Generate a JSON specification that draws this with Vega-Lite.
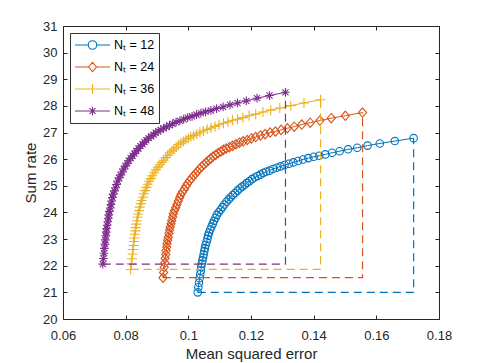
{
"$schema": "https://vega.github.io/schema/vega-lite/v6.json",
"width": 376, "height": 293,
"autosize": "none",
"padding": {"left": 63, "top": 26, "right": 46, "bottom": 44},
"background": "white",
"config": {
 "view": {"stroke": null},
 "font": "Liberation Sans",
 "axis": {"grid": false, "domainColor": "#262626", "tickColor": "#262626", "labelColor": "#262626", "titleColor": "#262626", "labelFontSize": 13, "titleFontSize": 15, "titleFontWeight": "normal", "labelFont": "Liberation Sans", "titleFont": "Liberation Sans", "tickSize": -4, "labelFlush": false, "labelOverlap": false}
},
"datasets": {
"curves": [
{"s":"12","i":1,"x":0.1030,"y":21.00},{"s":"12","i":2,"x":0.1032,"y":21.19},{"s":"12","i":3,"x":0.1034,"y":21.36},{"s":"12","i":4,"x":0.1036,"y":21.53},{"s":"12","i":5,"x":0.1038,"y":21.68},{"s":"12","i":6,"x":0.1040,"y":21.82},{"s":"12","i":7,"x":0.1041,"y":21.95},{"s":"12","i":8,"x":0.1043,"y":22.08},{"s":"12","i":9,"x":0.1045,"y":22.20},{"s":"12","i":10,"x":0.1047,"y":22.31},
{"s":"12","i":11,"x":0.1049,"y":22.43},{"s":"12","i":12,"x":0.1051,"y":22.55},{"s":"12","i":13,"x":0.1053,"y":22.66},{"s":"12","i":14,"x":0.1055,"y":22.78},{"s":"12","i":15,"x":0.1058,"y":22.89},{"s":"12","i":16,"x":0.1061,"y":23.01},{"s":"12","i":17,"x":0.1063,"y":23.13},{"s":"12","i":18,"x":0.1066,"y":23.24},{"s":"12","i":19,"x":0.1070,"y":23.36},{"s":"12","i":20,"x":0.1074,"y":23.47},
{"s":"12","i":21,"x":0.1078,"y":23.58},{"s":"12","i":22,"x":0.1082,"y":23.69},{"s":"12","i":23,"x":0.1087,"y":23.80},{"s":"12","i":24,"x":0.1091,"y":23.91},{"s":"12","i":25,"x":0.1097,"y":24.01},{"s":"12","i":26,"x":0.1103,"y":24.10},{"s":"12","i":27,"x":0.1109,"y":24.20},{"s":"12","i":28,"x":0.1115,"y":24.30},{"s":"12","i":29,"x":0.1122,"y":24.40},{"s":"12","i":30,"x":0.1129,"y":24.49},
{"s":"12","i":31,"x":0.1135,"y":24.57},{"s":"12","i":32,"x":0.1142,"y":24.65},{"s":"12","i":33,"x":0.1149,"y":24.73},{"s":"12","i":34,"x":0.1157,"y":24.82},{"s":"12","i":35,"x":0.1164,"y":24.90},{"s":"12","i":36,"x":0.1172,"y":24.97},{"s":"12","i":37,"x":0.1180,"y":25.04},{"s":"12","i":38,"x":0.1187,"y":25.11},{"s":"12","i":39,"x":0.1195,"y":25.17},{"s":"12","i":40,"x":0.1203,"y":25.25},
{"s":"12","i":41,"x":0.1212,"y":25.31},{"s":"12","i":42,"x":0.1221,"y":25.37},{"s":"12","i":43,"x":0.1230,"y":25.42},{"s":"12","i":44,"x":0.1239,"y":25.48},{"s":"12","i":45,"x":0.1248,"y":25.53},{"s":"12","i":46,"x":0.1259,"y":25.57},{"s":"12","i":47,"x":0.1270,"y":25.63},{"s":"12","i":48,"x":0.1282,"y":25.68},{"s":"12","i":49,"x":0.1294,"y":25.73},{"s":"12","i":50,"x":0.1307,"y":25.78},
{"s":"12","i":51,"x":0.1321,"y":25.83},{"s":"12","i":52,"x":0.1335,"y":25.88},{"s":"12","i":53,"x":0.1350,"y":25.93},{"s":"12","i":54,"x":0.1366,"y":25.99},{"s":"12","i":55,"x":0.1383,"y":26.04},{"s":"12","i":56,"x":0.1400,"y":26.09},{"s":"12","i":57,"x":0.1418,"y":26.13},{"s":"12","i":58,"x":0.1437,"y":26.18},{"s":"12","i":59,"x":0.1459,"y":26.24},{"s":"12","i":60,"x":0.1483,"y":26.30},
{"s":"12","i":61,"x":0.1510,"y":26.37},{"s":"12","i":62,"x":0.1539,"y":26.43},{"s":"12","i":63,"x":0.1572,"y":26.51},{"s":"12","i":64,"x":0.1611,"y":26.59},{"s":"12","i":65,"x":0.1659,"y":26.68},{"s":"12","i":66,"x":0.1719,"y":26.79},
{"s":"24","i":1,"x":0.0919,"y":21.55},{"s":"24","i":2,"x":0.0921,"y":21.75},{"s":"24","i":3,"x":0.0923,"y":21.94},{"s":"24","i":4,"x":0.0925,"y":22.11},{"s":"24","i":5,"x":0.0926,"y":22.28},{"s":"24","i":6,"x":0.0928,"y":22.42},{"s":"24","i":7,"x":0.0929,"y":22.57},{"s":"24","i":8,"x":0.0931,"y":22.70},{"s":"24","i":9,"x":0.0932,"y":22.83},{"s":"24","i":10,"x":0.0934,"y":22.96},
{"s":"24","i":11,"x":0.0936,"y":23.08},{"s":"24","i":12,"x":0.0938,"y":23.21},{"s":"24","i":13,"x":0.0940,"y":23.33},{"s":"24","i":14,"x":0.0942,"y":23.45},{"s":"24","i":15,"x":0.0945,"y":23.58},{"s":"24","i":16,"x":0.0947,"y":23.70},{"s":"24","i":17,"x":0.0950,"y":23.83},{"s":"24","i":18,"x":0.0952,"y":23.95},{"s":"24","i":19,"x":0.0956,"y":24.07},{"s":"24","i":20,"x":0.0960,"y":24.19},
{"s":"24","i":21,"x":0.0964,"y":24.31},{"s":"24","i":22,"x":0.0968,"y":24.43},{"s":"24","i":23,"x":0.0972,"y":24.55},{"s":"24","i":24,"x":0.0976,"y":24.66},{"s":"24","i":25,"x":0.0981,"y":24.77},{"s":"24","i":26,"x":0.0987,"y":24.87},{"s":"24","i":27,"x":0.0992,"y":24.98},{"s":"24","i":28,"x":0.0997,"y":25.08},{"s":"24","i":29,"x":0.1004,"y":25.19},{"s":"24","i":30,"x":0.1010,"y":25.28},
{"s":"24","i":31,"x":0.1017,"y":25.38},{"s":"24","i":32,"x":0.1023,"y":25.46},{"s":"24","i":33,"x":0.1029,"y":25.54},{"s":"24","i":34,"x":0.1036,"y":25.64},{"s":"24","i":35,"x":0.1043,"y":25.72},{"s":"24","i":36,"x":0.1050,"y":25.80},{"s":"24","i":37,"x":0.1057,"y":25.88},{"s":"24","i":38,"x":0.1064,"y":25.95},{"s":"24","i":39,"x":0.1071,"y":26.02},{"s":"24","i":40,"x":0.1079,"y":26.10},
{"s":"24","i":41,"x":0.1087,"y":26.16},{"s":"24","i":42,"x":0.1095,"y":26.23},{"s":"24","i":43,"x":0.1104,"y":26.29},{"s":"24","i":44,"x":0.1112,"y":26.35},{"s":"24","i":45,"x":0.1121,"y":26.40},{"s":"24","i":46,"x":0.1131,"y":26.45},{"s":"24","i":47,"x":0.1141,"y":26.50},{"s":"24","i":48,"x":0.1152,"y":26.56},{"s":"24","i":49,"x":0.1163,"y":26.62},{"s":"24","i":50,"x":0.1175,"y":26.67},
{"s":"24","i":51,"x":0.1188,"y":26.72},{"s":"24","i":52,"x":0.1201,"y":26.78},{"s":"24","i":53,"x":0.1215,"y":26.83},{"s":"24","i":54,"x":0.1230,"y":26.89},{"s":"24","i":55,"x":0.1245,"y":26.94},{"s":"24","i":56,"x":0.1261,"y":27.00},{"s":"24","i":57,"x":0.1278,"y":27.04},{"s":"24","i":58,"x":0.1296,"y":27.10},{"s":"24","i":59,"x":0.1316,"y":27.16},{"s":"24","i":60,"x":0.1338,"y":27.22},
{"s":"24","i":61,"x":0.1362,"y":27.30},{"s":"24","i":62,"x":0.1389,"y":27.37},{"s":"24","i":63,"x":0.1420,"y":27.45},{"s":"24","i":64,"x":0.1456,"y":27.54},{"s":"24","i":65,"x":0.1501,"y":27.63},{"s":"24","i":66,"x":0.1556,"y":27.75},
{"s":"36","i":1,"x":0.0816,"y":21.86},{"s":"36","i":2,"x":0.0818,"y":22.07},{"s":"36","i":3,"x":0.0820,"y":22.26},{"s":"36","i":4,"x":0.0822,"y":22.44},{"s":"36","i":5,"x":0.0823,"y":22.61},{"s":"36","i":6,"x":0.0825,"y":22.76},{"s":"36","i":7,"x":0.0826,"y":22.91},{"s":"36","i":8,"x":0.0827,"y":23.04},{"s":"36","i":9,"x":0.0829,"y":23.18},{"s":"36","i":10,"x":0.0831,"y":23.31},
{"s":"36","i":11,"x":0.0832,"y":23.43},{"s":"36","i":12,"x":0.0834,"y":23.56},{"s":"36","i":13,"x":0.0836,"y":23.69},{"s":"36","i":14,"x":0.0838,"y":23.82},{"s":"36","i":15,"x":0.0840,"y":23.94},{"s":"36","i":16,"x":0.0843,"y":24.07},{"s":"36","i":17,"x":0.0845,"y":24.20},{"s":"36","i":18,"x":0.0848,"y":24.33},{"s":"36","i":19,"x":0.0851,"y":24.45},{"s":"36","i":20,"x":0.0855,"y":24.57},
{"s":"36","i":21,"x":0.0858,"y":24.70},{"s":"36","i":22,"x":0.0862,"y":24.82},{"s":"36","i":23,"x":0.0866,"y":24.94},{"s":"36","i":24,"x":0.0870,"y":25.06},{"s":"36","i":25,"x":0.0875,"y":25.17},{"s":"36","i":26,"x":0.0880,"y":25.27},{"s":"36","i":27,"x":0.0885,"y":25.38},{"s":"36","i":28,"x":0.0891,"y":25.49},{"s":"36","i":29,"x":0.0897,"y":25.60},{"s":"36","i":30,"x":0.0903,"y":25.70},
{"s":"36","i":31,"x":0.0909,"y":25.79},{"s":"36","i":32,"x":0.0915,"y":25.88},{"s":"36","i":33,"x":0.0921,"y":25.96},{"s":"36","i":34,"x":0.0928,"y":26.06},{"s":"36","i":35,"x":0.0934,"y":26.15},{"s":"36","i":36,"x":0.0941,"y":26.23},{"s":"36","i":37,"x":0.0948,"y":26.31},{"s":"36","i":38,"x":0.0954,"y":26.38},{"s":"36","i":39,"x":0.0961,"y":26.45},{"s":"36","i":40,"x":0.0968,"y":26.54},
{"s":"36","i":41,"x":0.0976,"y":26.60},{"s":"36","i":42,"x":0.0984,"y":26.66},{"s":"36","i":43,"x":0.0992,"y":26.73},{"s":"36","i":44,"x":0.1000,"y":26.79},{"s":"36","i":45,"x":0.1008,"y":26.84},{"s":"36","i":46,"x":0.1017,"y":26.89},{"s":"36","i":47,"x":0.1027,"y":26.95},{"s":"36","i":48,"x":0.1037,"y":27.01},{"s":"36","i":49,"x":0.1048,"y":27.06},{"s":"36","i":50,"x":0.1060,"y":27.12},
{"s":"36","i":51,"x":0.1072,"y":27.17},{"s":"36","i":52,"x":0.1085,"y":27.23},{"s":"36","i":53,"x":0.1098,"y":27.29},{"s":"36","i":54,"x":0.1112,"y":27.35},{"s":"36","i":55,"x":0.1126,"y":27.40},{"s":"36","i":56,"x":0.1141,"y":27.46},{"s":"36","i":57,"x":0.1157,"y":27.50},{"s":"36","i":58,"x":0.1174,"y":27.56},{"s":"36","i":59,"x":0.1194,"y":27.63},{"s":"36","i":60,"x":0.1215,"y":27.69},
{"s":"36","i":61,"x":0.1238,"y":27.77},{"s":"36","i":62,"x":0.1263,"y":27.84},{"s":"36","i":63,"x":0.1292,"y":27.92},{"s":"36","i":64,"x":0.1327,"y":28.01},{"s":"36","i":65,"x":0.1369,"y":28.11},{"s":"36","i":66,"x":0.1422,"y":28.23},
{"s":"48","i":1,"x":0.0727,"y":22.06},{"s":"48","i":2,"x":0.0729,"y":22.27},{"s":"48","i":3,"x":0.0731,"y":22.47},{"s":"48","i":4,"x":0.0732,"y":22.65},{"s":"48","i":5,"x":0.0734,"y":22.81},{"s":"48","i":6,"x":0.0735,"y":22.97},{"s":"48","i":7,"x":0.0737,"y":23.12},{"s":"48","i":8,"x":0.0738,"y":23.26},{"s":"48","i":9,"x":0.0739,"y":23.40},{"s":"48","i":10,"x":0.0741,"y":23.52},
{"s":"48","i":11,"x":0.0743,"y":23.65},{"s":"48","i":12,"x":0.0745,"y":23.78},{"s":"48","i":13,"x":0.0746,"y":23.91},{"s":"48","i":14,"x":0.0748,"y":24.04},{"s":"48","i":15,"x":0.0751,"y":24.17},{"s":"48","i":16,"x":0.0753,"y":24.30},{"s":"48","i":17,"x":0.0755,"y":24.43},{"s":"48","i":18,"x":0.0758,"y":24.56},{"s":"48","i":19,"x":0.0760,"y":24.69},{"s":"48","i":20,"x":0.0764,"y":24.81},
{"s":"48","i":21,"x":0.0768,"y":24.93},{"s":"48","i":22,"x":0.0771,"y":25.05},{"s":"48","i":23,"x":0.0775,"y":25.18},{"s":"48","i":24,"x":0.0779,"y":25.30},{"s":"48","i":25,"x":0.0784,"y":25.41},{"s":"48","i":26,"x":0.0789,"y":25.52},{"s":"48","i":27,"x":0.0794,"y":25.63},{"s":"48","i":28,"x":0.0799,"y":25.74},{"s":"48","i":29,"x":0.0805,"y":25.85},{"s":"48","i":30,"x":0.0810,"y":25.94},
{"s":"48","i":31,"x":0.0816,"y":26.04},{"s":"48","i":32,"x":0.0822,"y":26.13},{"s":"48","i":33,"x":0.0828,"y":26.21},{"s":"48","i":34,"x":0.0834,"y":26.31},{"s":"48","i":35,"x":0.0841,"y":26.40},{"s":"48","i":36,"x":0.0847,"y":26.49},{"s":"48","i":37,"x":0.0854,"y":26.56},{"s":"48","i":38,"x":0.0860,"y":26.64},{"s":"48","i":39,"x":0.0866,"y":26.71},{"s":"48","i":40,"x":0.0873,"y":26.79},
{"s":"48","i":41,"x":0.0881,"y":26.86},{"s":"48","i":42,"x":0.0889,"y":26.92},{"s":"48","i":43,"x":0.0896,"y":26.99},{"s":"48","i":44,"x":0.0904,"y":27.05},{"s":"48","i":45,"x":0.0912,"y":27.10},{"s":"48","i":46,"x":0.0921,"y":27.16},{"s":"48","i":47,"x":0.0930,"y":27.21},{"s":"48","i":48,"x":0.0940,"y":27.27},{"s":"48","i":49,"x":0.0950,"y":27.33},{"s":"48","i":50,"x":0.0961,"y":27.39},
{"s":"48","i":51,"x":0.0973,"y":27.44},{"s":"48","i":52,"x":0.0985,"y":27.50},{"s":"48","i":53,"x":0.0998,"y":27.56},{"s":"48","i":54,"x":0.1012,"y":27.61},{"s":"48","i":55,"x":0.1026,"y":27.67},{"s":"48","i":56,"x":0.1040,"y":27.73},{"s":"48","i":57,"x":0.1055,"y":27.78},{"s":"48","i":58,"x":0.1072,"y":27.83},{"s":"48","i":59,"x":0.1090,"y":27.90},{"s":"48","i":60,"x":0.1111,"y":27.96},
{"s":"48","i":61,"x":0.1133,"y":28.04},{"s":"48","i":62,"x":0.1157,"y":28.11},{"s":"48","i":63,"x":0.1185,"y":28.19},{"s":"48","i":64,"x":0.1219,"y":28.29},{"s":"48","i":65,"x":0.1259,"y":28.39},{"s":"48","i":66,"x":0.1310,"y":28.51}
],
"rect": [
{"s":"12","k":1,"x":0.1030,"y":21.00},{"s":"12","k":2,"x":0.1719,"y":21.00},{"s":"12","k":3,"x":0.1719,"y":26.79},
{"s":"24","k":1,"x":0.0919,"y":21.55},{"s":"24","k":2,"x":0.1556,"y":21.55},{"s":"24","k":3,"x":0.1556,"y":27.75},
{"s":"36","k":1,"x":0.0816,"y":21.86},{"s":"36","k":2,"x":0.1422,"y":21.86},{"s":"36","k":3,"x":0.1422,"y":28.23},
{"s":"48","k":1,"x":0.0727,"y":22.06},{"s":"48","k":2,"x":0.1310,"y":22.06},{"s":"48","k":3,"x":0.1310,"y":28.51}
]
},
"resolve": {"axis": {"x": "independent", "y": "independent"}},
"layer": [
{
 "data": {"name": "curves"},
 "mark": {"type": "line", "strokeWidth": 1},
 "encoding": {
  "x": {"field": "x", "type": "quantitative", "scale": {"domain": [0.06, 0.18], "nice": false, "zero": false}, "axis": {"title": "Mean squared error", "values": [0.06, 0.08, 0.1, 0.12, 0.14, 0.16, 0.18], "format": ".2~f", "labelPadding": 14, "titlePadding": 4}},
  "y": {"field": "y", "type": "quantitative", "scale": {"domain": [20, 31], "nice": false, "zero": false}, "axis": {"title": "Sum rate", "values": [20, 21, 22, 23, 24, 25, 26, 27, 28, 29, 30, 31], "labelPadding": 10, "titlePadding": 4}},
  "stroke": {"field": "s", "type": "nominal", "scale": {"domain": ["48", "36", "24", "12"], "range": ["#7E2F8E", "#EDB120", "#D95319", "#0072BD"]}, "legend": null},
  "order": {"field": "i", "type": "quantitative"}
 }
},
{
 "data": {"name": "curves"},
 "transform": [{"filter": {"field": "s", "equal": "12"}}],
 "mark": {"type": "point", "shape": "circle", "filled": false, "stroke": "#0072BD", "size": 56, "strokeWidth": 1.1, "opacity": 1},
 "encoding": {"x": {"field": "x", "type": "quantitative", "axis": null}, "y": {"field": "y", "type": "quantitative", "axis": null}}
},
{
 "data": {"name": "curves"},
 "transform": [{"filter": {"field": "s", "equal": "24"}}],
 "mark": {"type": "point", "shape": "M0,-1L0.87,0L0,1L-0.87,0Z", "filled": false, "stroke": "#D95319", "size": 88, "strokeWidth": 1.1, "opacity": 1},
 "encoding": {"x": {"field": "x", "type": "quantitative", "axis": null}, "y": {"field": "y", "type": "quantitative", "axis": null}}
},
{
 "data": {"name": "curves"},
 "transform": [{"filter": {"field": "s", "equal": "36"}}],
 "mark": {"type": "point", "shape": "M-1,0H1M0,-1V1", "filled": false, "stroke": "#EDB120", "size": 100, "strokeWidth": 1.1, "opacity": 1},
 "encoding": {"x": {"field": "x", "type": "quantitative", "axis": null}, "y": {"field": "y", "type": "quantitative", "axis": null}}
},
{
 "data": {"name": "curves"},
 "transform": [{"filter": {"field": "s", "equal": "48"}}],
 "mark": {"type": "point", "shape": "M-1,0H1M0,-1V1M-0.7,-0.7L0.7,0.7M-0.7,0.7L0.7,-0.7", "filled": false, "stroke": "#7E2F8E", "size": 76, "strokeWidth": 1.1, "opacity": 1},
 "encoding": {"x": {"field": "x", "type": "quantitative", "axis": null}, "y": {"field": "y", "type": "quantitative", "axis": null}}
},
{
 "data": {"name": "rect"},
 "mark": {"type": "line", "strokeDash": [8, 5], "strokeWidth": 1.2},
 "encoding": {
  "x": {"field": "x", "type": "quantitative", "axis": null},
  "y": {"field": "y", "type": "quantitative", "axis": null},
  "stroke": {"field": "s", "type": "nominal", "scale": {"domain": ["48", "36", "24", "12"], "range": ["#7E2F8E", "#EDB120", "#D95319", "#0072BD"]}, "legend": null},
  "order": {"field": "k", "type": "quantitative"}
 }
},
{
 "data": {"name": "rect"},
 "mark": {"type": "point", "filled": false, "size": 0, "strokeWidth": 1, "opacity": 1},
 "encoding": {
  "color": {"field": "s", "type": "nominal", "scale": {"domain": ["12", "24", "36", "48"], "range": ["#0072BD", "#D95319", "#EDB120", "#7E2F8E"]},
   "legend": {"title": null, "orient": "none", "legendX": 7, "legendY": 7, "padding": 4, "strokeColor": "#333333", "fillColor": "white", "symbolSize": 1225, "symbolStrokeWidth": 1.1, "symbolOpacity": 1, "clipHeight": 16, "rowPadding": 6, "labelOffset": 3, "labelFont": "Liberation Sans", "labelFontSize": 12.5, "labelColor": "#000000", "labelExpr": "'Nₜ = ' + datum.label"}},
  "shape": {"field": "s", "type": "nominal", "scale": {"domain": ["12", "24", "36", "48"], "range": [
    "M-1,0H-0.243M0.243,0H1M-0.243,0A0.243,0.243,0,1,0,0.243,0A0.243,0.243,0,1,0,-0.243,0",
    "M-1,0H-0.226M0.226,0H1M0,-0.26L0.226,0L0,0.26L-0.226,0Z",
    "M-1,0H1M0,-0.286V0.286",
    "M-1,0H1M0,-0.24V0.24M-0.17,-0.17L0.17,0.17M-0.17,0.17L0.17,-0.17"]},
   "legend": {"title": null, "orient": "none", "legendX": 7, "legendY": 7, "padding": 4, "strokeColor": "#333333", "fillColor": "white", "symbolSize": 1225, "symbolStrokeWidth": 1.1, "symbolOpacity": 1, "clipHeight": 16, "rowPadding": 6, "labelOffset": 3, "labelFont": "Liberation Sans", "labelFontSize": 12.5, "labelColor": "#000000", "labelExpr": "'Nₜ = ' + datum.label"}}
 }
},
{
 "data": {"name": "rect"},
 "transform": [{"filter": "datum.k < 0"}],
 "mark": {"type": "point", "opacity": 0},
 "encoding": {
  "x": {"field": "x", "type": "quantitative", "axis": {"orient": "top", "labels": false, "title": null, "values": [0.06, 0.08, 0.1, 0.12, 0.14, 0.16, 0.18]}},
  "y": {"field": "y", "type": "quantitative", "axis": {"orient": "right", "labels": false, "title": null, "values": [20, 21, 22, 23, 24, 25, 26, 27, 28, 29, 30, 31]}}
 }
}
]
}
